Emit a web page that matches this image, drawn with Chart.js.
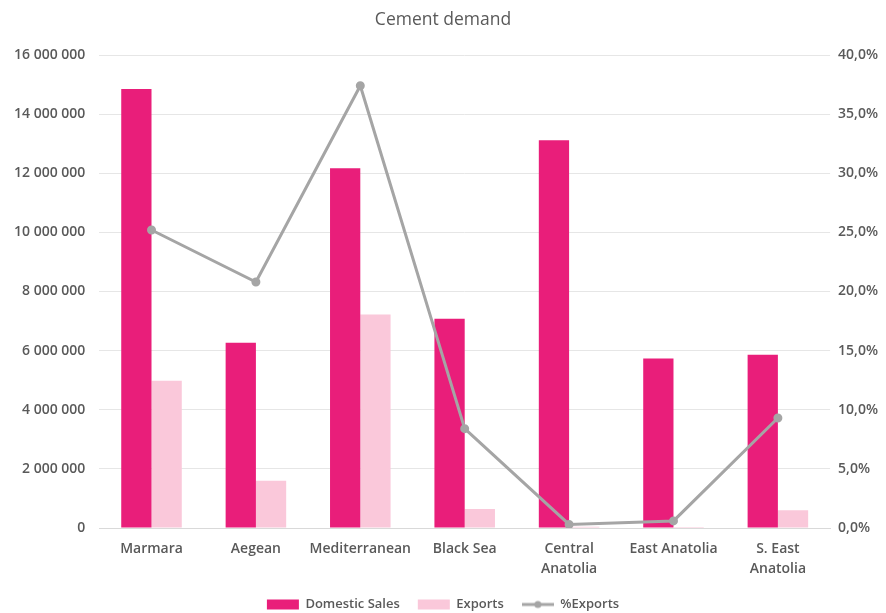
<!DOCTYPE html>
<html>
<head>
<meta charset="utf-8">
<script src="https://cdn.jsdelivr.net/npm/chart.js@4/dist/chart.umd.min.js"></script>
<style>
  html, body { margin: 0; padding: 0; background: #ffffff; }
  #wrap { width: 886px; height: 613px; }
</style>
</head>
<body>
<div id="wrap"><canvas id="c" width="886" height="613"></canvas></div>
<script>
const categories = ['Marmara', 'Aegean', 'Mediterranean', 'Black Sea', ['Central', 'Anatolia'], 'East Anatolia', ['S. East', 'Anatolia']];
const domesticSales = [14850000, 6270000, 12170000, 7080000, 13120000, 5730000, 5860000];
const exportsValues = [4980000, 1600000, 7220000, 640000, 45000, 35000, 600000];
const pctExports = [25.2, 20.8, 37.4, 8.4, 0.3, 0.6, 9.3];
const leftTicks = { min: 0, max: 16000000, step: 2000000 };
const rightTicks = { min: 0, max: 40, step: 5 };

const FONT = "'Open Sans', 'Liberation Sans', sans-serif";
const TXT = '#595959';

function fmtThousands(v) {
  return String(Math.round(v)).replace(/\B(?=(\d{3})+(?!\d))/g, ' ');
}
function fmtPct(v) {
  return v.toFixed(1).replace('.', ',') + '%';
}

// legend icon for line series: line with a dot
const lineIcon = document.createElement('canvas');
lineIcon.width = 32; lineIcon.height = 10;
(function () {
  const g = lineIcon.getContext('2d');
  g.strokeStyle = '#A5A5A5'; g.lineWidth = 3;
  g.beginPath(); g.moveTo(0, 5); g.lineTo(32, 5); g.stroke();
  g.fillStyle = '#A5A5A5';
  g.beginPath(); g.arc(16, 5, 3.5, 0, Math.PI * 2); g.fill();
})();

new Chart(document.getElementById('c'), {
  type: 'bar',
  data: {
    labels: categories,
    datasets: [
      {
        label: 'Domestic Sales',
        data: domesticSales,
        backgroundColor: '#E91E7A',
        yAxisID: 'y',
        order: 2,
        barPercentage: 1,
        categoryPercentage: 0.58
      },
      {
        label: 'Exports',
        data: exportsValues,
        backgroundColor: '#FAC8DA',
        yAxisID: 'y',
        order: 2,
        barPercentage: 1,
        categoryPercentage: 0.58
      },
      {
        type: 'line',
        label: '%Exports',
        data: pctExports,
        borderColor: '#A5A5A5',
        backgroundColor: '#A5A5A5',
        borderWidth: 3,
        pointRadius: 3,
        pointBackgroundColor: '#A5A5A5',
        pointBorderColor: '#A5A5A5',
        tension: 0,
        yAxisID: 'y1',
        order: 0
      }
    ]
  },
  options: {
    responsive: false,
    animation: false,
    devicePixelRatio: 1,
    layout: { padding: { left: 0, right: 0, top: 4, bottom: -8 } },
    plugins: {
      title: {
        display: true,
        text: 'Cement demand',
        color: TXT,
        font: { family: FONT, size: 17.5, weight: 'normal' },
        padding: { top: 6, bottom: 24 }
      },
      legend: {
        position: 'bottom',
        labels: {
          color: TXT,
          font: { family: FONT, size: 13, weight: '600' },
          boxWidth: 32,
          boxHeight: 10,
          padding: 18,
          usePointStyle: true,
          pointStyleWidth: 32,
          sort: (a, b) => a.datasetIndex - b.datasetIndex,
          generateLabels(chart) {
            const items = Chart.defaults.plugins.legend.labels.generateLabels(chart);
            items.forEach(it => {
              if (it.datasetIndex === 2) {
                it.pointStyle = lineIcon;
              } else {
                it.pointStyle = 'rect';
                it.lineWidth = 0;
              }
            });
            return items;
          }
        }
      },
      tooltip: { enabled: false }
    },
    scales: {
      x: {
        grid: { display: false, drawTicks: false },
        border: { display: true, color: '#D9D9D9' },
        afterFit(scale) { scale.height = 52; },
        ticks: {
          color: TXT,
          font: { family: FONT, size: 14, weight: '600', lineHeight: 1.45 },
          maxRotation: 0,
          autoSkip: false,
          padding: 11
        }
      },
      y: {
        position: 'left',
        min: leftTicks.min,
        max: leftTicks.max,
        grid: { color: '#E6E6E6', drawTicks: false },
        border: { display: false },
        ticks: {
          stepSize: leftTicks.step,
          color: TXT,
          font: { family: FONT, size: 14, weight: '600' },
          padding: 14,
          callback: v => fmtThousands(v)
        }
      },
      y1: {
        position: 'right',
        min: rightTicks.min,
        max: rightTicks.max,
        grid: { display: false, drawTicks: false },
        border: { display: false },
        ticks: {
          stepSize: rightTicks.step,
          color: TXT,
          font: { family: FONT, size: 14, weight: '600' },
          padding: 8,
          callback: v => fmtPct(v)
        }
      }
    }
  }
});
</script>
</body>
</html>
